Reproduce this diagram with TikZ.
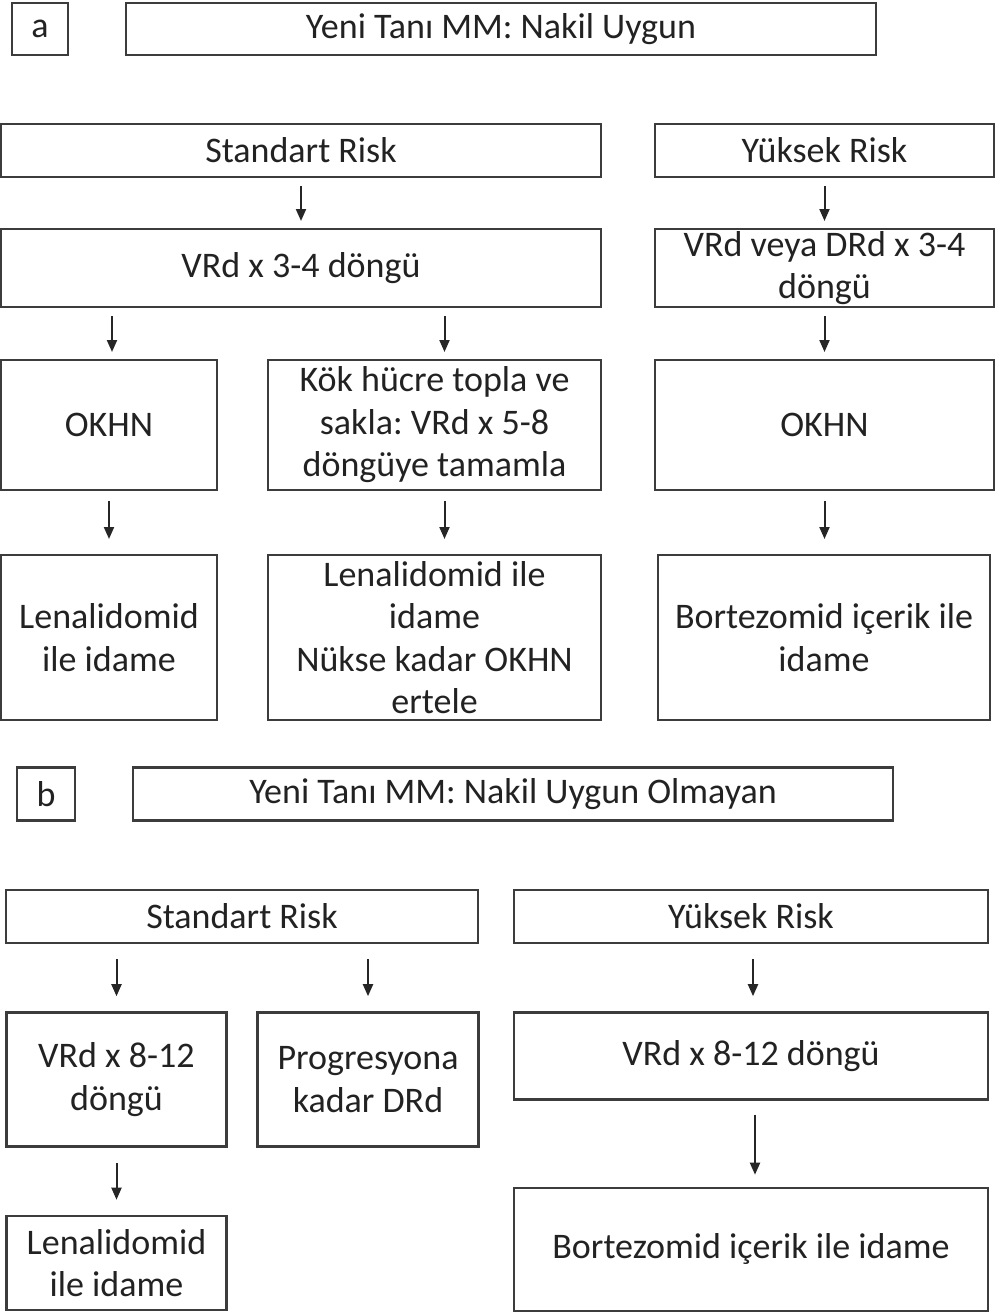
\documentclass[tikz,border=0pt]{standalone}
\usepackage{fontspec}
\setmainfont{Carlito}
\usepackage{tikz}
\usetikzlibrary{positioning, calc}
\usetikzlibrary{arrows.meta}
\definecolor{linegray}{HTML}{3C3C3C}
\definecolor{textgray}{HTML}{222222}
\tikzstyle{box} =
[
	draw=linegray,rectangle,line width=2pt,inner sep=0pt,
	align=center,text=textgray,font=\fontsize{36}{42.5}\selectfont
]
\tikzstyle{boxb} =
[
	draw=linegray,rectangle,line width=2.6pt,inner sep=0pt,
	align=center,text=textgray,font=\fontsize{36}{42.5}\selectfont
]
\tikzstyle{arr} = [-{Triangle[length=12pt,width=10pt]},line width=2pt,draw=black!85,fill=black!85]
\frenchspacing

\begin{document}
\begin{tikzpicture}[x=1pt,y=-1pt]
\useasboundingbox (0,0) rectangle (995,1314);

% panel a
\node[box, minimum width=56pt, minimum height=52pt] (lbla) at (40,29) {a};
\node[box, minimum width=750pt, minimum height=52pt] (titlea) at (501,29) {Yeni Tanı MM: Nakil Uygun};

\node[box, minimum width=600pt, minimum height=53pt] (SRa) at (301,150.5) {Standart Risk};
\node[box, minimum width=339pt, minimum height=53pt] (YRa) at (824.5,150.5) {Yüksek Risk};

\node[box, minimum width=600pt, minimum height=78pt] (VRa) at (301,268) {VRd x 3-4 döngü};
\node[box, minimum width=339pt, minimum height=78pt] (VDa) at (824.5,268) {VRd veya DRd x 3-4\\döngü};

\node[box, minimum width=216pt, minimum height=130pt] (OKa) at (109,425) {OKHN};
\node[box, minimum width=333pt, minimum height=130pt] (KHa) at (434.5,425) {Kök hücre topla ve\\sakla: VRd x 5-8\\döngüye tamamla};
\node[box, minimum width=339pt, minimum height=130pt] (OKra) at (824.5,425) {OKHN};

\node[box, minimum width=216pt, minimum height=165pt] (LIa) at (109,637.5) {Lenalidomid\\ile idame};
\node[box, minimum width=333pt, minimum height=165pt] (LNa) at (434.5,637.5) {Lenalidomid ile\\idame\\Nükse kadar OKHN\\ertele};
\node[box, minimum width=332pt, minimum height=165pt] (BIa) at (824,637.5) {Bortezomid içerik ile\\idame};

\draw[arr, shorten <=8pt, shorten >=7pt] (SRa.south) -- (VRa.north);
\draw[arr, shorten <=8pt, shorten >=7pt] (YRa.south) -- (VDa.north);
\draw[arr, shorten <=8pt, shorten >=7pt] ([xshift=3pt]VRa.south -| OKa.north) -- ([xshift=3pt]OKa.north);
\draw[arr, shorten <=8pt, shorten >=7pt] ([xshift=10pt]VRa.south -| KHa.north) -- ([xshift=10pt]KHa.north);
\draw[arr, shorten <=8pt, shorten >=7pt] (VDa.south) -- (OKra.north);
\draw[arr, shorten <=10pt, shorten >=15pt] (OKa.south) -- (LIa.north);
\draw[arr, shorten <=10pt, shorten >=15pt] ([xshift=10pt]KHa.south) -- ([xshift=10pt]LNa.north);
\draw[arr, shorten <=10pt, shorten >=15pt] (OKra.south) -- (OKra.south |- BIa.north);

% panel b
\node[boxb, minimum width=58pt, minimum height=53pt] (lblb) at (46,794) {b};
\node[boxb, minimum width=760pt, minimum height=53pt] (titleb) at (513,794) {Yeni Tanı MM: Nakil Uygun Olmayan};

\node[boxb, minimum width=472pt, minimum height=53pt] (SRb) at (242,916.5) {Standart Risk};
\node[boxb, minimum width=474pt, minimum height=53pt] (YRb) at (751,916.5) {Yüksek Risk};

\node[boxb, minimum width=220pt, minimum height=134pt] (VRb) at (116.5,1079.5) {VRd x 8-12\\döngü};
\node[boxb, minimum width=221pt, minimum height=134pt] (PKb) at (368,1079.5) {Progresyona\\kadar DRd};
\node[boxb, minimum width=474pt, minimum height=87pt] (VRRb) at (751,1056) {VRd x 8-12 döngü};

\node[boxb, minimum width=220pt, minimum height=94pt] (LIb) at (116.5,1263) {Lenalidomid\\ile idame};
\node[boxb, minimum width=474pt, minimum height=123pt] (BIb) at (751,1249.5) {Bortezomid içerik ile idame};

\draw[arr, shorten <=15pt, shorten >=15pt] (SRb.south -| VRb.north) -- (VRb.north);
\draw[arr, shorten <=15pt, shorten >=15pt] (SRb.south -| PKb.north) -- (PKb.north);
\draw[arr, shorten <=15pt, shorten >=15pt] ([xshift=2pt]YRb.south) -- ([xshift=2pt]VRRb.north);
\draw[arr, shorten <=15pt, shorten >=15pt] (VRb.south) -- (LIb.north);
\draw[arr, shorten <=14pt, shorten >=12pt] ([xshift=4pt]VRRb.south) -- ([xshift=4pt]BIb.north);

\end{tikzpicture}
\end{document}
